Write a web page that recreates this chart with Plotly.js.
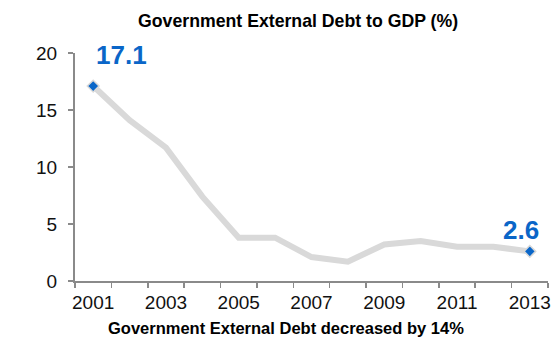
<!DOCTYPE html>
<html>
<head>
<meta charset="utf-8">
<script src="https://cdn.plot.ly/plotly-3.0.1.min.js"></script>
<style>
html,body{margin:0;padding:0;background:#fff;}
#chart{width:552px;height:339px;}
</style>
</head>
<body>
<div id="chart"></div>
<script>
const years = [2001, 2002, 2003, 2004, 2005, 2006, 2007, 2008, 2009, 2010, 2011, 2012, 2013];
const debtToGdp = [17.1, 14.1, 11.7, 7.4, 3.8, 3.8, 2.1, 1.7, 3.2, 3.5, 3.0, 3.0, 2.6];
const tickYears = [2001, 2003, 2005, 2007, 2009, 2011, 2013];
const tickLabels = ["2001", "2003", "2005", "2007", "2009", "2011", "2013"];
const boundaries = [2000.5, 2001.5, 2002.5, 2003.5, 2004.5, 2005.5, 2006.5, 2007.5, 2008.5, 2009.5, 2010.5, 2011.5, 2012.5, 2013.5];
const titleText = "Government External Debt to GDP (%)";
const subtitleText = "Government External Debt decreased by 14%";

const last = years.length - 1;
const endX = [years[0], years[last]];
const endY = [debtToGdp[0], debtToGdp[last]];

const boldFont = '"Liberation Sans", Arial, sans-serif';
const tickFont = '"Liberation Sans", Arial, sans-serif';
const blue = '#0a66c8';

const traces = [
  {
    x: years, y: debtToGdp, type: 'scatter', mode: 'lines',
    line: {color: '#d9d9d9', width: 6},
    hoverinfo: 'skip'
  },
  {
    x: endX, y: endY, type: 'scatter', mode: 'markers',
    marker: {symbol: 'diamond', size: 9, color: blue, line: {color: '#d9d9d9', width: 1.5}},
    hoverinfo: 'skip'
  }
];

const layout = {
  width: 552, height: 339,
  margin: {l: 75, r: 4, t: 53, b: 58},
  paper_bgcolor: '#ffffff', plot_bgcolor: '#ffffff',
  showlegend: false,
  title: {
    text: '<b>' + titleText + '</b>',
    font: {family: boldFont, size: 17.7, color: '#000'},
    x: 0.54, xref: 'container', xanchor: 'center',
    y: 0.94, yref: 'container', yanchor: 'middle'
  },
  xaxis: {
    range: [2000.5, 2013.5],
    tickvals: tickYears, ticktext: tickLabels,
    ticks: '', showgrid: false, zeroline: false,
    showline: true, linecolor: '#8a8a8a', linewidth: 2,
    tickfont: {family: tickFont, size: 19, color: '#111'},
    ticklabelstandoff: 3,
    minor: {tickvals: boundaries, ticks: 'outside', ticklen: 5, tickcolor: '#8a8a8a', tickwidth: 1.5, showgrid: false}
  },
  yaxis: {
    range: [0, 20],
    tickvals: [0, 5, 10, 15, 20],
    ticks: 'outside', ticklen: 5, tickcolor: '#8a8a8a', tickwidth: 1.5,
    showgrid: false, zeroline: false,
    showline: true, linecolor: '#8a8a8a', linewidth: 2,
    tickfont: {family: tickFont, size: 19, color: '#111'},
    ticklabelstandoff: 7
  },
  annotations: [
    {
      x: endX[0], y: endY[0], xref: 'x', yref: 'y',
      text: '<b>' + String(endY[0]) + '</b>', showarrow: false,
      xshift: 28, yshift: 31,
      font: {family: '"Liberation Sans", Arial, sans-serif', size: 26, color: blue}
    },
    {
      x: endX[1], y: endY[1], xref: 'x', yref: 'y',
      text: '<b>' + String(endY[1]) + '</b>', showarrow: false,
      xshift: -9, yshift: 21,
      font: {family: '"Liberation Sans", Arial, sans-serif', size: 26, color: blue}
    },
    {
      x: 0.446, y: -0.206, xref: 'paper', yref: 'paper',
      xanchor: 'center', yanchor: 'middle',
      text: '<b>' + subtitleText + '</b>', showarrow: false,
      font: {family: boldFont, size: 16.5, color: '#000'}
    }
  ]
};

Plotly.newPlot('chart', traces, layout, {displayModeBar: false, staticPlot: true});
</script>
</body>
</html>
